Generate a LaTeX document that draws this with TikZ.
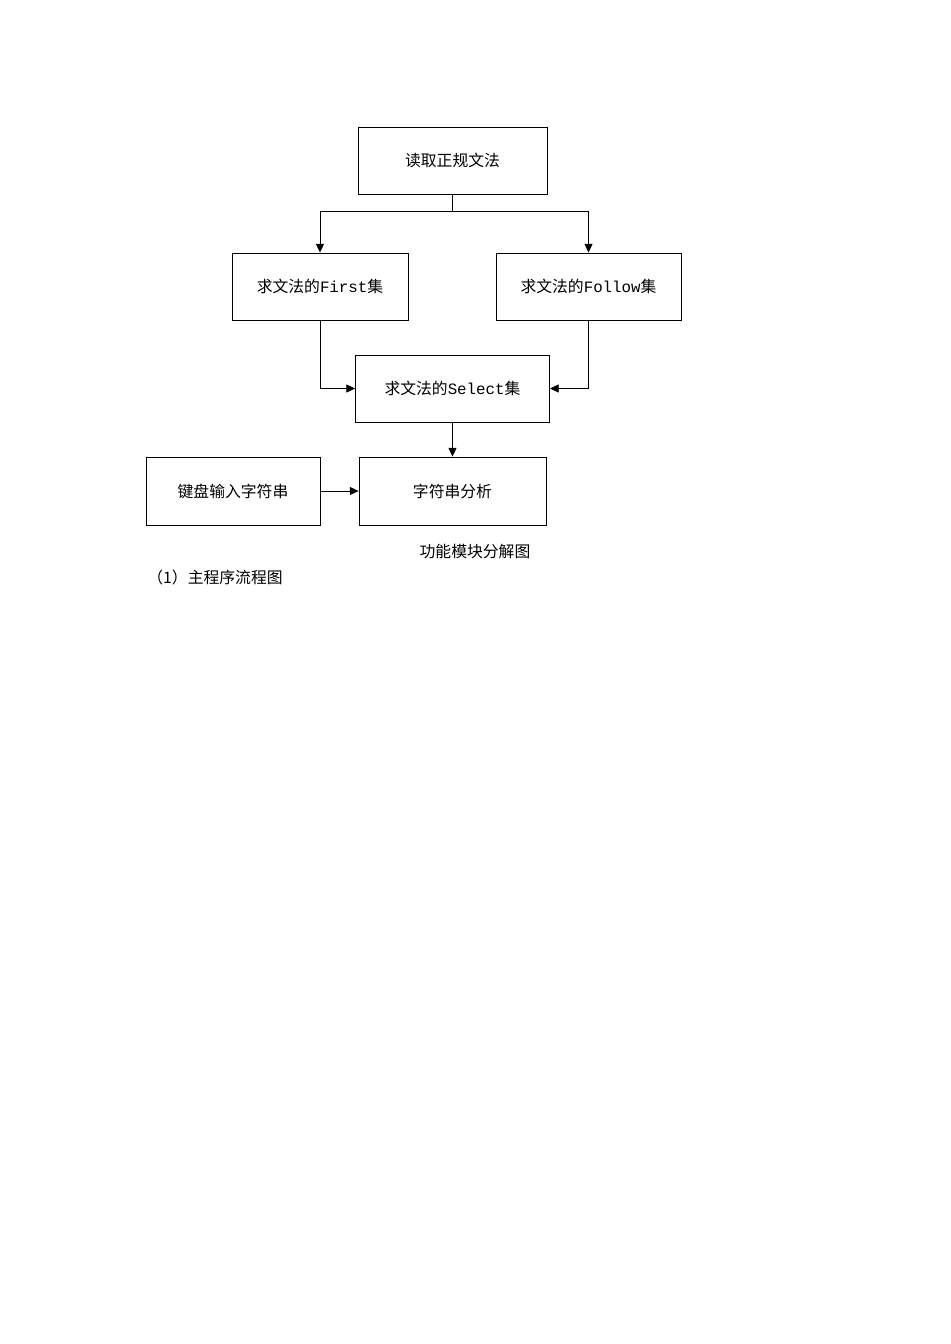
\documentclass[tikz,border=0pt]{standalone}
\usepackage{fontspec}
\setmainfont{Noto Sans CJK SC}
\setmonofont{Liberation Mono}
\usepackage{tikz}
\usetikzlibrary{arrows.meta}

\tikzset{
  module/.style={draw, line width=0.5pt, minimum height=1.34cm, inner sep=0pt,
    font=\fontsize{9}{11}\selectfont},
  flow/.style={line width=0.5pt, -{Triangle[length=5pt,width=4.6pt]}},
  caption/.style={font=\fontsize{9}{11}\selectfont, inner sep=0pt}
}

\begin{document}
\begin{tikzpicture}[x=0.02cm,y=-0.02cm]
\useasboundingbox (0,0) rectangle (950,1344);

    \node[module, minimum width=3.78cm] (read) at (452.5,160.5) {读取正规文法};
    \node[module, minimum width=3.52cm] (first) at (320,286.5) {求文法的\texttt{First}集};
    \node[module, minimum width=3.70cm] (follow) at (588.5,286.5) {求文法的\texttt{Follow}集};
    \node[module, minimum width=3.88cm] (select) at (452.5,388.5) {求文法的\texttt{Select}集};
    \node[module, minimum width=3.48cm, minimum height=1.36cm] (input) at (233,491) {键盘输入字符串};
    \node[module, minimum width=3.74cm, minimum height=1.36cm] (analyse) at (452.5,491) {字符串分析};

    \node[caption] (title) at (475,551) {功能模块分解图};
    \node[caption, anchor=west] (sub) at (147,577) {（1）主程序流程图};

    \coordinate (split) at (452.5,211);

    % draw the arrows
    \draw[line width=0.5pt] (read.south) -- (split);
    \draw[flow] (split) -| (first.north);
    \draw[flow] (split) -| (follow.north);
    \draw[flow] (first.south) |- (select.west);
    \draw[flow] (follow.south) |- (select.east);
    \draw[flow] (select.south) -- (analyse.north);
    \draw[flow] (input.east) -- (analyse.west);

\end{tikzpicture}
\end{document}
